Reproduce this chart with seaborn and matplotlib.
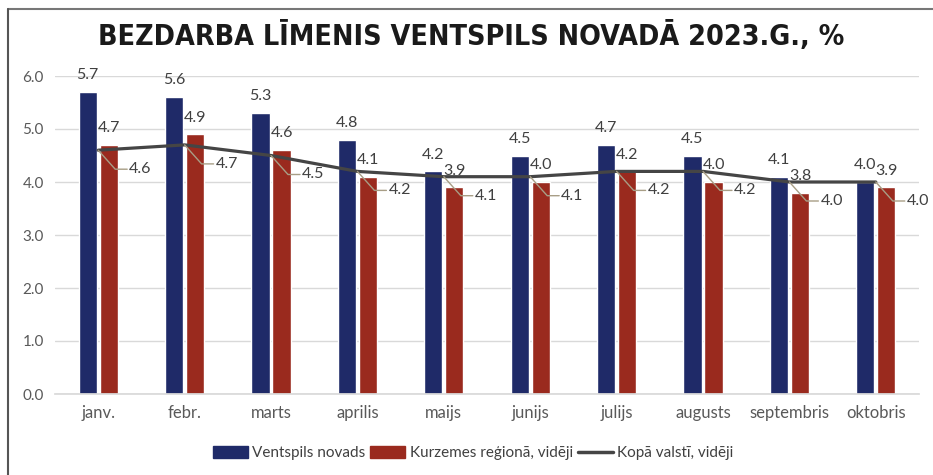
import matplotlib
matplotlib.use("Agg")
import matplotlib.pyplot as plt
import seaborn as sns
import pandas as pd
from matplotlib.lines import Line2D
from matplotlib.patches import Patch
from matplotlib.transforms import IdentityTransform

months = ["janv.", "febr.", "marts", "aprilis", "maijs", "junijs", "julijs", "augusts", "septembris", "oktobris"]
ventspils = [5.7, 5.6, 5.3, 4.8, 4.2, 4.5, 4.7, 4.5, 4.1, 4.0]
kurzeme = [4.7, 4.9, 4.6, 4.1, 3.9, 4.0, 4.2, 4.0, 3.8, 3.9]
valsts = [4.6, 4.7, 4.5, 4.2, 4.1, 4.1, 4.2, 4.2, 4.0, 4.0]
series_names = ["Ventspils novads", "Kurzemes reģionā, vidēji", "Kopā valstī, vidēji"]
yticks = [0.0, 1.0, 2.0, 3.0, 4.0, 5.0, 6.0]

c_blue = "#1F2A68"
c_red = "#9A2A1E"
c_line = "#454545"
c_lead = "#A89E86"
c_text = "#404040"

sns.set_theme(style="white")
plt.rcParams['font.family'] = ['Lato', 'DejaVu Sans']

df = pd.DataFrame({
    "month": months * 2,
    "value": ventspils + kurzeme,
    "series": [series_names[0]] * len(months) + [series_names[1]] * len(months),
})

fig = plt.figure(figsize=(9.33, 4.75), dpi=100)
ax = fig.add_axes([55 / 933, 1 - 394 / 475, (919 - 55) / 933, (394 - 76) / 475])

sns.barplot(data=df, x="month", y="value", hue="series", order=months,
            hue_order=series_names[:2], palette=[c_blue, c_red],
            width=0.49, gap=0.14, ax=ax, legend=False, saturation=1)

xs = list(range(len(months)))
ax.plot(xs, valsts, color=c_line, lw=2.3, zorder=5, solid_capstyle="round")

ax.set_xlim(-0.5, 9.5)
ax.set_ylim(0, 6)

# bar labels
for cont in ax.containers:
    for bar in cont:
        h = bar.get_height()
        ax.annotate(f"{h:.1f}", (bar.get_x() + bar.get_width() / 2, h),
                    xytext=(0, 7), textcoords="offset points", ha="center", va="bottom",
                    fontsize=11.5, color=c_text, annotation_clip=False)

# line labels with leaders (pixel offsets in display space)
for x, v in zip(xs, valsts):
    px, py = ax.transData.transform((x, v))
    lx = [px, px + 17, px + 29]
    ly = [py, py - 19, py - 19]
    fig.add_artist(Line2D(lx, ly, transform=IdentityTransform(), color=c_lead, lw=1, zorder=6))
    fig.text(px + 31, py - 19, f"{v:.1f}", transform=IdentityTransform(),
             ha="left", va="center", fontsize=11.5, color=c_text, zorder=7)

ax.set_yticks(yticks)
ax.set_yticklabels([f"{t:.1f}" for t in yticks], fontsize=11, color="#595959")
ax.tick_params(axis="x", labelsize=12, colors="#595959", pad=8, length=0)
ax.tick_params(axis="y", length=0, pad=8)
ax.set_xlabel("")
ax.set_ylabel("")
ax.grid(axis="y", color="#D9D9D9", lw=1)
ax.set_axisbelow(True)
for s in ["top", "right", "left"]:
    ax.spines[s].set_visible(False)
ax.spines["bottom"].set_color("#D9D9D9")

fig.text(471 / 933, 1 - 36 / 475, "BEZDARBA LĪMENIS VENTSPILS NOVADĀ 2023.G., %",
         ha="center", va="center", fontsize=20.5, fontweight="bold", color="#1a1a1a",
         family=['DejaVu Sans'], fontstretch="condensed")

handles = [Patch(facecolor=c_blue, edgecolor=c_blue),
           Patch(facecolor=c_red, edgecolor=c_red),
           Line2D([0], [0], color=c_line, lw=2.5)]
fig.legend(handles, series_names, loc="center", bbox_to_anchor=(473 / 933, 1 - 453 / 475),
           ncol=3, frameon=False, fontsize=11, handlelength=2.3, handleheight=0.8,
           columnspacing=0.3, handletextpad=0.3, labelcolor="#404040")

# frame
fig.add_artist(Line2D([8 / 933, 933 / 933], [1 - 9 / 475, 1 - 9 / 475], color="#777777", lw=1.5))
fig.add_artist(Line2D([8 / 933, 8 / 933], [0, 1 - 9 / 475], color="#555555", lw=1.5))

fig.savefig("out.png", dpi=100)
